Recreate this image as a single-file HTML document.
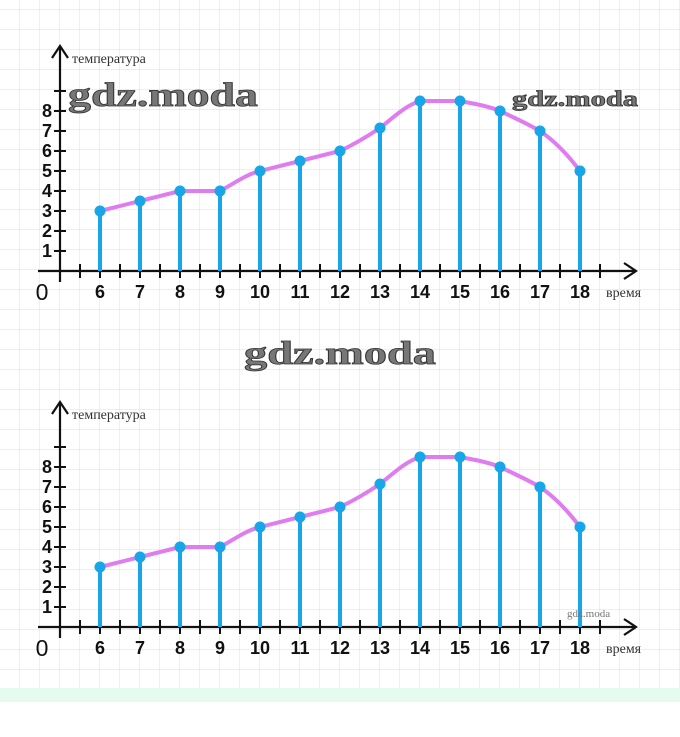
<!DOCTYPE html>
<html><head><meta charset="utf-8"><style>
html,body{margin:0;padding:0;background:#fff;}
svg{display:block}
</style></head><body>
<svg width="680" height="737" viewBox="0 0 680 737" xmlns="http://www.w3.org/2000/svg">
<defs>
<pattern id="g" x="0" y="10" width="20" height="20" patternUnits="userSpaceOnUse">
<path d="M20 0V20M0 20H20" stroke="#e4e4e4" stroke-width="1.2" fill="none"/>
</pattern>
<g id="chart">
<line x1="60" y1="282" x2="60" y2="46" stroke="#111" stroke-width="2.2"/>
<path d="M52 58L60 46L68 58" stroke="#111" stroke-width="2.2" fill="none"/>
<line x1="38" y1="271" x2="636" y2="271" stroke="#111" stroke-width="2.2"/>
<path d="M624 263L636 271L624 279" stroke="#111" stroke-width="2.2" fill="none"/>
<g stroke="#111" stroke-width="2">
<line x1="54" y1="251" x2="66" y2="251"/><line x1="54" y1="231" x2="66" y2="231"/>
<line x1="54" y1="211" x2="66" y2="211"/><line x1="54" y1="191" x2="66" y2="191"/>
<line x1="54" y1="171" x2="66" y2="171"/><line x1="54" y1="151" x2="66" y2="151"/>
<line x1="54" y1="131" x2="66" y2="131"/><line x1="54" y1="111" x2="66" y2="111"/>
<line x1="54" y1="91" x2="66" y2="91"/>
<line x1="80" y1="264" x2="80" y2="278"/><line x1="100" y1="264" x2="100" y2="278"/>
<line x1="120" y1="264" x2="120" y2="278"/><line x1="140" y1="264" x2="140" y2="278"/>
<line x1="160" y1="264" x2="160" y2="278"/><line x1="180" y1="264" x2="180" y2="278"/>
<line x1="200" y1="264" x2="200" y2="278"/><line x1="220" y1="264" x2="220" y2="278"/>
<line x1="240" y1="264" x2="240" y2="278"/><line x1="260" y1="264" x2="260" y2="278"/>
<line x1="280" y1="264" x2="280" y2="278"/><line x1="300" y1="264" x2="300" y2="278"/>
<line x1="320" y1="264" x2="320" y2="278"/><line x1="340" y1="264" x2="340" y2="278"/>
<line x1="360" y1="264" x2="360" y2="278"/><line x1="380" y1="264" x2="380" y2="278"/>
<line x1="400" y1="264" x2="400" y2="278"/><line x1="420" y1="264" x2="420" y2="278"/>
<line x1="440" y1="264" x2="440" y2="278"/><line x1="460" y1="264" x2="460" y2="278"/>
<line x1="480" y1="264" x2="480" y2="278"/><line x1="500" y1="264" x2="500" y2="278"/>
<line x1="520" y1="264" x2="520" y2="278"/><line x1="540" y1="264" x2="540" y2="278"/>
<line x1="560" y1="264" x2="560" y2="278"/><line x1="580" y1="264" x2="580" y2="278"/>
<line x1="600" y1="264" x2="600" y2="278"/>
</g>
<g font-family="Liberation Sans, sans-serif" font-size="18" font-weight="bold" fill="#111" text-anchor="end" stroke="#fff" stroke-width="0">
<text x="52" y="257">1</text><text x="52" y="237">2</text><text x="52" y="217">3</text>
<text x="52" y="197">4</text><text x="52" y="177">5</text><text x="52" y="157">6</text>
<text x="52" y="137">7</text><text x="52" y="117">8</text>
</g>
<text x="42" y="300" font-family="Liberation Sans, sans-serif" font-size="23" fill="#111" text-anchor="middle">0</text>
<g font-family="Liberation Sans, sans-serif" font-size="18" font-weight="bold" fill="#111" text-anchor="middle">
<text x="100" y="298">6</text><text x="140" y="298">7</text><text x="180" y="298">8</text>
<text x="220" y="298">9</text><text x="260" y="298">10</text><text x="300" y="298">11</text>
<text x="340" y="298">12</text><text x="380" y="298">13</text><text x="420" y="298">14</text>
<text x="460" y="298">15</text><text x="500" y="298">16</text><text x="540" y="298">17</text>
<text x="580" y="298">18</text>
</g>
<text x="72" y="63" font-family="Liberation Serif, serif" font-size="14" fill="#333">температура</text>
<text x="606" y="297" font-family="Liberation Serif, serif" font-size="14" fill="#333">время</text>
<g stroke="#18a6e8" stroke-width="4">
<line x1="100" y1="271" x2="100" y2="211"/><line x1="140" y1="271" x2="140" y2="201"/>
<line x1="180" y1="271" x2="180" y2="191"/><line x1="220" y1="271" x2="220" y2="191"/>
<line x1="260" y1="271" x2="260" y2="171"/><line x1="300" y1="271" x2="300" y2="161"/>
<line x1="340" y1="271" x2="340" y2="151"/><line x1="380" y1="271" x2="380" y2="128"/>
<line x1="420" y1="271" x2="420" y2="101"/><line x1="460" y1="271" x2="460" y2="101"/>
<line x1="500" y1="271" x2="500" y2="111"/><line x1="540" y1="271" x2="540" y2="131"/>
<line x1="580" y1="271" x2="580" y2="171"/>
</g>
<path d="M100 211L140 201L180 191L220 191C235 183 245 175 260 171L300 161L340 151C355 144 368 136 380 128C395 116 405 106 420 101L460 101C475 104 488 106 500 111C515 118 528 124 540 131C556 142 568 155 580 171" stroke="#df7cf0" stroke-width="4" fill="none"/>
<g fill="#18a6e8">
<circle cx="100" cy="211" r="5.5"/><circle cx="140" cy="201" r="5.5"/><circle cx="180" cy="191" r="5.5"/>
<circle cx="220" cy="191" r="5.5"/><circle cx="260" cy="171" r="5.5"/><circle cx="300" cy="161" r="5.5"/>
<circle cx="340" cy="151" r="5.5"/><circle cx="380" cy="128" r="5.5"/><circle cx="420" cy="101" r="5.5"/>
<circle cx="460" cy="101" r="5.5"/><circle cx="500" cy="111" r="5.5"/><circle cx="540" cy="131" r="5.5"/>
<circle cx="580" cy="171" r="5.5"/>
</g>
</g>
</defs>
<rect x="0" y="0" width="680" height="690" fill="url(#g)"/>
<rect x="0" y="688" width="680" height="14" fill="#e6fbef"/>
<use href="#chart"/>
<use href="#chart" transform="translate(0,356)"/>
<g font-family="Liberation Serif, serif" font-weight="bold" fill="#777" stroke="#333" stroke-width="0.8">
<text x="68" y="106" font-size="34" textLength="190" lengthAdjust="spacingAndGlyphs">gdz.moda</text>
<text x="512" y="106" font-size="22" textLength="126" lengthAdjust="spacingAndGlyphs">gdz.moda</text>
<text x="244" y="364" font-size="33" textLength="192" lengthAdjust="spacingAndGlyphs">gdz.moda</text>
</g>
<text x="567" y="617" font-family="Liberation Serif, serif" font-size="11" fill="#777">gdz.moda</text>
</svg>
</body></html>
